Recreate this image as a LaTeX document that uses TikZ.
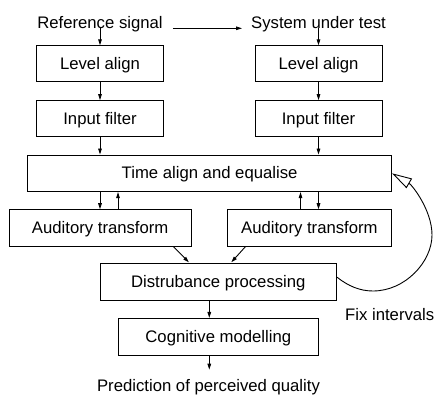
\documentclass[tikz,border=0pt]{standalone}
\usepackage{fontspec}
\setmainfont{Liberation Sans}
\usetikzlibrary{arrows.meta}

\tikzset{
  lbl/.style={inner sep=0pt, font=\fontsize{16.7pt}{20pt}\selectfont},
  blk/.style={draw, line width=0.9pt, inner sep=0pt, text height=12pt, text depth=1pt,
              font=\fontsize{16.7pt}{20pt}\selectfont},
  arr/.style={line width=0.9pt, -{Triangle[length=6pt,width=3.6pt]}},
  fb/.style={line width=0.9pt, -{Triangle[open,length=20pt,width=11pt,line width=0.9pt]}}
}

\begin{document}
\begin{tikzpicture}[x=1pt,y=-1pt]
\useasboundingbox (0,0) rectangle (436,396);

% input labels
\node[lbl, anchor=base] (refsig) at (100,28.3) {Reference signal};
\node[lbl, anchor=base] (sut) at (318.5,28.3) {System under test};

% left chain
\node[blk, minimum width=126.6pt, minimum height=36pt] (lvl1) at (100,63.8) {Level align};
\node[blk, minimum width=126.6pt, minimum height=36pt] (inp1) at (100,118.6) {Input filter};
% right chain
\node[blk, minimum width=127pt, minimum height=36pt] (lvl2) at (318.5,63.8) {Level align};
\node[blk, minimum width=127pt, minimum height=36pt] (inp2) at (318.5,118.6) {Input filter};

% shared stages
\node[blk, minimum width=364pt, minimum height=36.7pt] (time) at (209.6,173.3) {Time align and equalise};
\node[blk, minimum width=181.7pt, minimum height=36.7pt] (aud1) at (100.2,228) {Auditory transform};
\node[blk, minimum width=163.3pt, minimum height=36.7pt] (aud2) at (309.4,228) {Auditory transform};
\node[blk, minimum width=236.7pt, minimum height=36.7pt] (dist) at (218.3,282.2) {Distrubance processing};
\node[blk, minimum width=200pt, minimum height=36.7pt] (cog) at (218.3,336.7) {Cognitive modelling};

% outputs
\node[lbl, anchor=base] (pred) at (208.5,391.7) {Prediction of perceived quality};
\node[lbl, anchor=base west] (fix) at (345,320) {Fix intervals};

% signal flow
\draw[arr] ([xshift=10pt]refsig.base east) -- ([xshift=-9pt]sut.base west);
\draw[arr] (refsig.base) -- (lvl1.north);
\draw[arr] (sut.base) -- (lvl2.north);
\draw[arr] (lvl1.south) -- (inp1.north);
\draw[arr] (lvl2.south) -- (inp2.north);
\draw[arr] (inp1.south) -- (inp1.south |- time.north);
\draw[arr] (inp2.south) -- (inp2.south |- time.north);

% exchange between time alignment and auditory transforms
\draw[arr] (inp1.south |- time.south) -- (inp1.south |- aud1.north);
\draw[arr] ([xshift=18pt]inp1.south |- aud1.north) -- ([xshift=18pt]inp1.south |- time.south);
\draw[arr] (inp2.south |- time.south) -- (inp2.south |- aud2.north);
\draw[arr] ([xshift=-18pt]inp2.south |- aud2.north) -- ([xshift=-18pt]inp2.south |- time.south);

% into disturbance processing
\draw[arr, shorten >=1.5pt] ([xshift=-18pt]aud1.south east) -- ([xshift=-28.3pt]dist.north);
\draw[arr, shorten >=1.5pt] ([xshift=18pt]aud2.south west) -- ([xshift=12pt]dist.north);

\draw[arr] ([xshift=-9pt]dist.south) -- ([xshift=-9pt]cog.north);
\draw[arr, shorten >=9.7pt] ([xshift=-9pt]cog.south) -- ([xshift=-9pt]cog.south |- pred.north);

% feedback loop
\draw[fb] ([yshift=5pt]dist.east)
  .. controls (348,286) and (360,291) .. (373,291)
  .. controls (405,291) and (432,262) .. (432,235)
  .. controls (432,210) and (412,185) .. (time.east);
\end{tikzpicture}
\end{document}
